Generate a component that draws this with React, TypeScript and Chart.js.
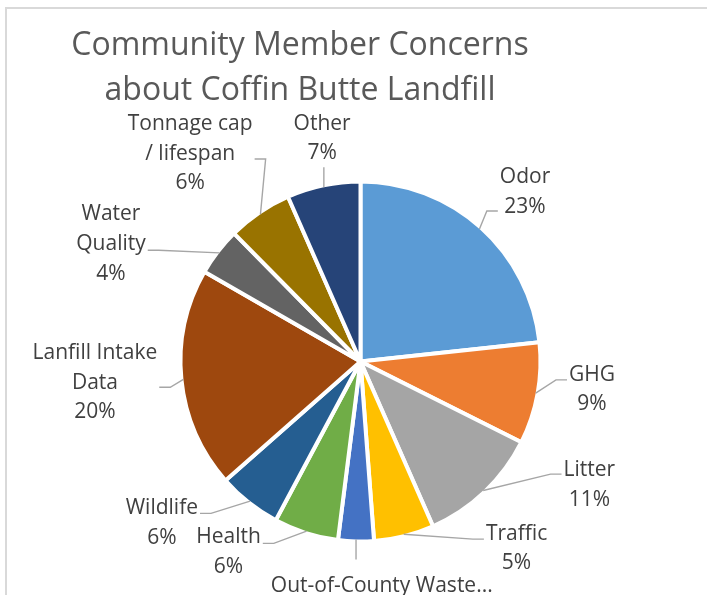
import React, { useEffect, useRef } from "react";
import { Chart, registerables } from "chart.js";

Chart.register(...registerables);

// ---- data ----
const categories: string[] = [
  "Odor",
  "GHG",
  "Litter",
  "Traffic",
  "Out-of-County Waste...",
  "Health",
  "Wildlife",
  "Lanfill Intake\nData",
  "Water\nQuality",
  "Tonnage cap\n/ lifespan",
  "Other",
];
const values: number[] = [23.3, 9.1, 11.0, 5.4, 3.2, 5.8, 5.7, 19.8, 4.3, 5.8, 6.6];
const colors: string[] = [
  "#5B9BD5",
  "#ED7D31",
  "#A5A5A5",
  "#FFC000",
  "#4472C4",
  "#70AD47",
  "#255E91",
  "#9E480E",
  "#636363",
  "#997300",
  "#264478",
];
const titleLines: string[] = ["Community Member Concerns", "about Coffin Butte Landfill"];

// ---- label layout (polar: degrees clockwise from top, distance in radii, connector dy) ----
const labelAngle: number[] = [43.9, 96.5, 118.0, 139.9, 174.9, 215.0, 231.1, 265.8, 295.5, 320.9, 350.3];
const labelDist: number[] = [1.333, 1.309, 1.456, 1.361, 1.344, 1.293, 1.434, 1.496, 1.553, 1.517, 1.28];
const labelConnDy: number[] = [20.5, -8, -9, -7.7, 0, -6.7, -8.4, 6.3, 7.7, 7, 0];

const FONT = '"Open Sans", "DejaVu Sans", sans-serif';
const LABEL_SIZE = 21;
const LINE_H = 29.8;
const CAP_H = 15.2;
const TITLE_SIZE = 32;
const BORDER = 4;

const labelPlugin = {
  id: "pieLabels",
  afterDraw(chart: any) {
    const ctx: CanvasRenderingContext2D = chart.ctx;
    const meta = chart.getDatasetMeta(0);
    const data = chart.data.datasets[0].data as number[];
    const total = data.reduce((a, b) => a + b, 0);
    ctx.save();

    // title
    ctx.fillStyle = "#595959";
    ctx.font = `${TITLE_SIZE}px ${FONT}`;
    ctx.textAlign = "center";
    ctx.textBaseline = "alphabetic";
    ctx.fillText(titleLines[0], 300, 55);
    ctx.fillText(titleLines[1], 300, 100);

    ctx.font = `${LABEL_SIZE}px ${FONT}`;
    meta.data.forEach((arc: any, i: number) => {
      const p = arc.getProps(["x", "y", "startAngle", "endAngle", "outerRadius"], true);
      const R = p.outerRadius - BORDER / 2;
      const mid = (p.startAngle + p.endAngle) / 2;
      const ax = p.x + R * Math.cos(mid);
      const ay = p.y + R * Math.sin(mid);
      const phi = ((labelAngle[i] - 90) * Math.PI) / 180;
      const cx = p.x + labelDist[i] * R * Math.cos(phi);
      const cy = p.y + labelDist[i] * R * Math.sin(phi);
      const pct = Math.round((data[i] / total) * 100) + "%";
      const lines = [...categories[i].split("\n"), pct];
      const w = Math.max(...lines.map((l) => ctx.measureText(l).width));

      // leader line
      ctx.strokeStyle = "#A6A6A6";
      ctx.lineWidth = 1.4;
      ctx.beginPath();
      if (Math.abs(ax - cx) < w / 2) {
        const dir = cy > ay ? 1 : -1;
        ctx.moveTo(ax, ay);
        ctx.lineTo(ax, ay + dir * 20);
      } else {
        const right = cx > ax;
        const ex = right ? cx - w / 2 - 2 : cx + w / 2 + 2;
        const ey = cy + labelConnDy[i];
        const elx = right ? ex - 11 : ex + 11;
        ctx.moveTo(ax, ay);
        ctx.lineTo(elx, ey);
        ctx.lineTo(ex, ey);
      }
      ctx.stroke();

      // text
      ctx.fillStyle = "#404040";
      ctx.textAlign = "center";
      ctx.textBaseline = "alphabetic";
      lines.forEach((l, k) => {
        const lc = cy - ((lines.length - 1) / 2) * LINE_H + k * LINE_H;
        ctx.fillText(l, cx, lc + CAP_H / 2);
      });
    });
    ctx.restore();
  },
};

export default function App() {
  const ref = useRef<HTMLCanvasElement>(null);
  useEffect(() => {
    if (!ref.current) return;
    const chart = new Chart(ref.current, {
      type: "pie",
      data: {
        labels: categories.map((c) => c.replace("\n", " ")),
        datasets: [
          {
            data: values,
            backgroundColor: colors,
            borderColor: "#FFFFFF",
            borderWidth: BORDER,
            hoverBorderWidth: BORDER,
            hoverOffset: 0,
          },
        ],
      },
      options: {
        animation: false,
        responsive: false,
        devicePixelRatio: 1,
        events: [],
        layout: { padding: { left: 178.5, right: 164.5, top: 179.5, bottom: 51.5 } },
        plugins: {
          legend: { display: false },
          tooltip: { enabled: false },
          title: { display: false },
        },
      },
      plugins: [labelPlugin],
    });
    return () => chart.destroy();
  }, []);

  return (
    <div style={{ position: "fixed", left: 0, top: 0, width: 707, height: 595, overflow: "hidden", background: "#fff" }}>
      <div
        style={{
          position: "absolute",
          left: 5,
          top: 7,
          width: 800,
          height: 700,
          borderTop: "2px solid #D9D9D9",
          borderLeft: "2px solid #D9D9D9",
        }}
      />
      <canvas ref={ref} width={707} height={595} style={{ position: "absolute", left: 0, top: 0, width: 707, height: 595 }} />
    </div>
  );
}
